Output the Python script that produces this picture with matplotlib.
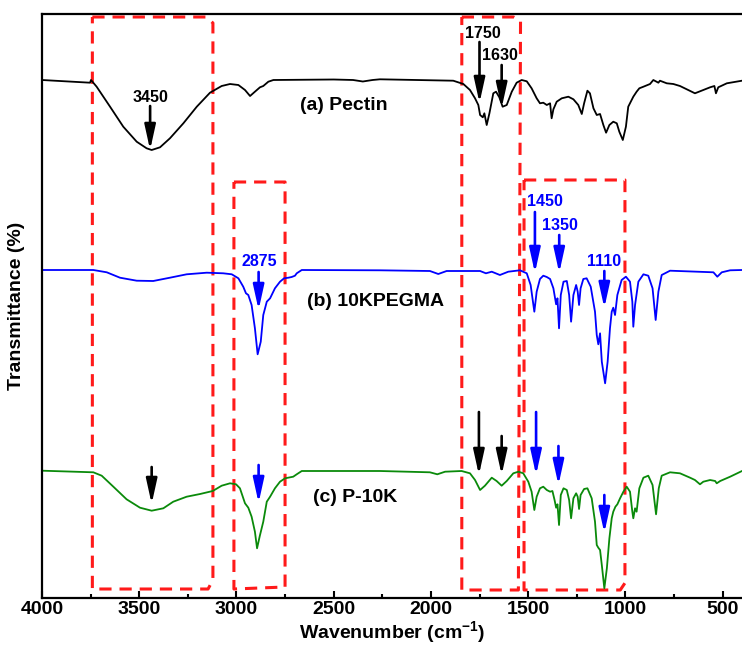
import numpy as np
import matplotlib.pyplot as plt

plt.rcParams['font.family'] = ['Liberation Sans', 'DejaVu Sans']
plt.rcParams['font.weight'] = 'bold'
plt.rcParams['mathtext.fontset'] = 'custom'
plt.rcParams['mathtext.rm'] = 'Liberation Sans:bold'
plt.rcParams['mathtext.bf'] = 'Liberation Sans:bold'

# spectra: wavenumber (cm-1) and signal height (arb. units)
pectin_wn = [4000, 3753, 3748, 3719, 3650, 3582, 3513, 3462, 3436, 3393, 3342, 3273, 3204, 3136,
             3076, 3033, 2990, 2956, 2930, 2905, 2879, 2862, 2836, 2810, 2500, 2400, 2350, 2300,
             2262, 1885, 1833, 1799, 1773, 1756, 1747, 1733, 1725, 1713, 1699, 1679, 1665, 1648,
             1631, 1610, 1584, 1559, 1533, 1507, 1482, 1456, 1439, 1422, 1404, 1387, 1379, 1370,
             1353, 1327, 1293, 1267, 1242, 1224, 1212, 1195, 1182, 1164, 1147, 1130, 1113, 1099,
             1082, 1062, 1044, 1031, 1013, 997, 985, 959, 942, 928, 907, 873, 856, 830, 822, 787,
             753, 719, 684, 642, 599, 564, 542, 534, 522, 478, 400]
pectin_t = [518, 515.3, 518, 511.3, 491.3, 471.3, 456.3, 449.7, 448, 450.7, 459.7, 474.7, 491.3, 505.3,
            512, 514, 513, 508, 502, 506.3, 510.7, 512, 516.3, 518, 518.5, 518, 516.5, 518,
            518.7, 517.3, 514, 508, 499.7, 493, 483, 480.7, 484.7, 473, 484.7, 504.7, 506.3, 500.7,
            491.3, 493, 506.3, 515.3, 518, 516.7, 509.7, 499.7, 494.7, 495.3, 493, 494.7, 479.7, 488.7,
            496.3, 499.7, 501.3, 498.7, 493, 484, 494.7, 507.3, 504.7, 489.7, 483, 484, 473, 465.3,
            473, 476.3, 474.7, 466.3, 458, 471.3, 491.3, 501.3, 506.3, 509.7, 511.3, 514, 518, 515.3, 517.3, 514.7,
            514, 512, 508.7, 504.7, 508, 510.7, 512, 504.7, 510.7, 514.7, 517.3]

pegma_wn = [4000, 3736, 3667, 3599, 3513, 3428, 3342, 3256, 3153, 3068, 3024, 2990, 2965, 2951,
            2939, 2922, 2905, 2891, 2875, 2862, 2844, 2827, 2802, 2776, 2755, 2733, 2716, 2699,
            2690, 2664, 2262, 2005, 1962, 1919, 1747, 1717, 1687, 1645, 1602, 1542, 1507, 1487,
            1468, 1456, 1439, 1422, 1404, 1387, 1370, 1356, 1349, 1341, 1332, 1318, 1301, 1289,
            1279, 1267, 1253, 1245, 1238, 1230, 1216, 1199, 1178, 1156, 1147, 1139, 1130, 1121,
            1104, 1091, 1079, 1070, 1062, 1053, 1041, 1019, 997, 976, 964, 959, 950, 933, 907,
            882, 860, 844, 830, 813, 770, 547, 527, 504, 461, 400]
pegma_t = [328, 328, 325.7, 320.3, 317.3, 317, 320.3, 323.7, 325.3, 324.7, 323.7, 319.7, 311.3, 304.7,
           303, 293, 269.7, 243.7, 256.3, 283, 296.3, 299.7, 309.7, 316.3, 319.7, 320.3, 321, 322.3,
           324.7, 328, 327.7, 327, 324, 327, 327, 324.7, 326.3, 323, 326.3, 327.7, 324.7, 313,
           286.3, 306.3, 319, 322.3, 321, 319, 309.7, 293.7, 299.7, 269.7, 303, 316.3, 317, 303,
           276.3, 303, 313, 306.3, 293, 309.7, 319, 319.7, 311.3, 286.3, 263, 253.7, 264.7, 236.3,
           214.7, 236.3, 269.7, 286.3, 290.3, 283, 303, 318, 321.3, 316.3, 296.3, 271.3, 293, 316.3, 323.7,
           322.3, 309.7, 278, 306.3, 323, 327.3, 325.7, 321.3, 325.7, 327.7, 328]

p10k_wn = [4000, 3736, 3693, 3633, 3565, 3496, 3436, 3376, 3325, 3256, 3187, 3122, 3076, 3033,
           3002, 2982, 2956, 2939, 2922, 2905, 2894, 2880, 2862, 2844, 2827, 2802, 2776, 2750,
           2708, 2690, 2664, 2262, 2005, 1967, 1927, 1842, 1799, 1773, 1747, 1722, 1687, 1662,
           1636, 1610, 1576, 1550, 1525, 1499, 1482, 1468, 1456, 1439, 1422, 1404, 1387, 1375,
           1364, 1356, 1349, 1341, 1332, 1318, 1301, 1289, 1279, 1267, 1253, 1245, 1238, 1230,
           1212, 1195, 1173, 1156, 1147, 1139, 1130, 1121, 1108, 1095, 1082, 1070, 1062, 1051,
           1041, 1027, 1010, 993, 976, 964, 959, 950, 942, 928, 907, 882, 860, 842, 828, 813,
           770, 719, 667, 642, 616, 599, 564, 538, 530, 512, 461, 400]
p10k_t = [127.3, 125.7, 122.3, 111.3, 98.7, 90.3, 87.3, 89.7, 96.3, 101.3, 104, 107, 112.3, 114.7,
          113.7, 109.7, 94.7, 90.3, 81.3, 66.3, 49.7, 62, 76.3, 96.3, 101.3, 109.7, 116.3, 119.7,
          121.3, 123.7, 127, 127, 125.7, 123.7, 126.3, 127, 124.7, 118, 108, 112.3, 120.3, 117,
          112.3, 117, 124.7, 126.3, 124.7, 116.3, 106.3, 88, 101.3, 109.7, 111.3, 108, 106.3, 107,
          98, 90.3, 93.7, 73, 103, 109.7, 108, 98, 79.7, 99.7, 104.7, 101.3, 89, 103,
          109, 109.7, 99.7, 76.3, 53, 50.3, 48, 33, 9.7, 29.7, 59.7, 79.7, 86.3, 91.3,
          93.7, 99.7, 106.3, 111.3, 106.3, 86.3, 79.7, 89.7, 86.3, 109.7, 120.3, 122.3, 113, 83.7, 109.7, 122.3,
          125.7, 124.7, 120.3, 118, 113.7, 116.3, 118, 117, 114.7, 117, 121.3, 127]

# peak labels: text, wavenumber, height, colour
peak_labels = [('3450', 3444, 500, 'black'), ('1750', 1732, 565, 'black'), ('1630', 1647, 542, 'black'),
               ('2875', 2881, 336, 'blue'), ('1450', 1416, 396, 'blue'), ('1350', 1336, 372, 'blue'),
               ('1110', 1110, 336, 'blue')]
# arrows: wavenumber, tail height, tip height, colour
arrows = [(3444, 492, 448, 'black'), (1750, 556, 495, 'black'), (1636, 533, 490, 'black'),
          (2886, 326, 288, 'blue'), (1465, 386, 325, 'blue'), (1340, 363, 325, 'blue'),
          (1108, 327, 290, 'blue'),
          (3436, 131, 94, 'black'), (2886, 133, 95, 'blue'), (1753, 186, 123, 'black'),
          (1636, 162, 123, 'black'), (1459, 186, 123, 'blue'), (1344, 152, 113, 'blue'),
          (1108, 103, 65, 'blue')]
names = [('(a) Pectin', 2447, 492), ('(b) 10KPEGMA', 2282, 297), ('(c) P-10K', 2390, 101)]

# red dashed regions (outline corners)
boxes = [
    ([3741, 3157, 3121, 3121, 3146, 3741, 3741], [581, 581, 575, 18, 9, 9, 581]),
    ([3013, 2750, 2750, 3013, 3013], [416, 416, 11, 9, 416]),
    ([1841, 1575, 1539, 1550, 1841, 1841], [581, 581, 577, 8, 8, 581]),
    ([1521, 1002, 1002, 1026, 1521, 1521], [418, 418, 15, 8, 8, 418]),
]

fig = plt.figure(figsize=(7.42, 6.46), dpi=100)
ax = fig.add_axes([42 / 742, 48 / 646, 700 / 742, 584 / 646])

for bx, by in boxes:
    ax.plot(bx, by, color='#ff1a1a', lw=2.2, ls=(0, (4, 2.6)), zorder=1)

ax.plot(pectin_wn, pectin_t, color='black', lw=1.3, zorder=2)
ax.plot(pegma_wn, pegma_t, color='#0000ff', lw=1.3, zorder=2)
ax.plot(p10k_wn, p10k_t, color='#0a8a0a', lw=1.3, zorder=2)

for x, y0, y1, c in arrows:
    ax.annotate('', xy=(x, y1), xytext=(x, y0),
                arrowprops=dict(arrowstyle='-|>,head_length=1.5,head_width=0.33',
                                color=c, lw=1.9, shrinkA=0, shrinkB=0), zorder=3)
for s, x, y, c in peak_labels:
    ax.text(x, y, s, color=c, fontsize=11.5, fontweight='bold', ha='center', va='center')
for s, x, y in names:
    ax.text(x, y, s, color='black', fontsize=14, fontweight='bold', ha='center', va='center')

ax.set_xlim(4000, 400)
ax.set_ylim(0, 584)
ax.set_xticks([4000, 3500, 3000, 2500, 2000, 1500, 1000, 500])
ax.set_xticks(np.arange(3750, 400, -500), minor=True)
ax.set_yticks([])
ax.tick_params(axis='x', which='both', direction='in', width=1.5, labelsize=14, pad=2)
ax.tick_params(axis='x', which='major', length=5)
ax.tick_params(axis='x', which='minor', length=3)
for lab in ax.get_xticklabels():
    lab.set_fontweight('bold')
for side in ['left', 'top', 'bottom']:
    ax.spines[side].set_linewidth(1.6)
ax.spines['right'].set_visible(False)

ax.set_xlabel('Wavenumber (cm$^{-1}$)', fontsize=14, fontweight='bold', labelpad=1)
ax.set_ylabel('Transmittance (%)', fontsize=14, fontweight='bold', labelpad=12)

fig.savefig('out.png', dpi=100)
